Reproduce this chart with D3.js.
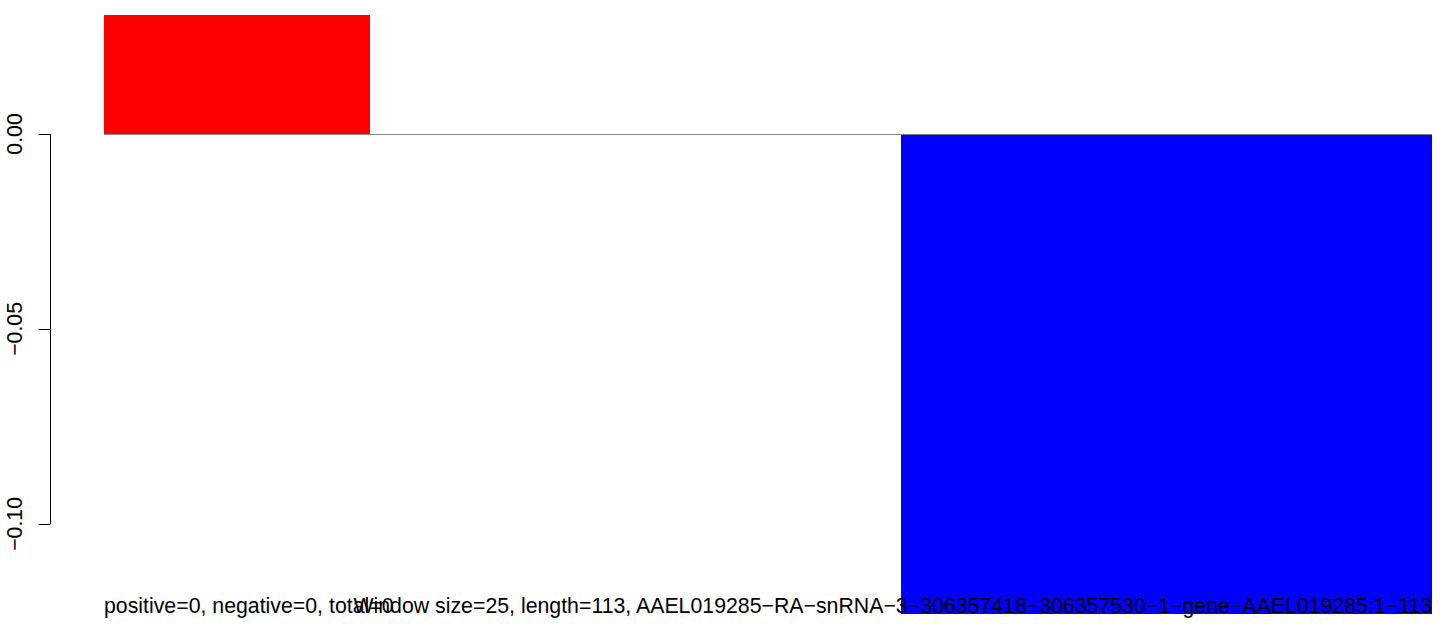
<!DOCTYPE html>
<html>
<head>
<meta charset="utf-8">
<script src="https://cdn.jsdelivr.net/npm/d3@7"></script>
<style>
	body { margin:0; background:#fff; }
	text { font-family: "Liberation Sans", Arial, Helvetica, sans-serif; }
</style>
</head>
<body>
<div id="idChart"></div>
<script>
// windows of 25 along a 113 long sequence
var aWindows=["1","26","51","76","101"];
var aValues=[0.0305, 0, 0, -0.1231, -0.1231];
var aTicks=[0, -0.05, -0.10];
var aTickLabels=["0.00", "\u22120.05", "\u22120.10"];
var sLeftNote="positive=0, negative=0, total=0";
var sRightNote="Window size=25, length=113, AAEL019285\u2212RA\u2212snRNA\u22123\u2212306357418\u2212306357530\u22121\u2212gene\u2212AAEL019285:1\u2212113";

function DrawWindowBars()
{
	var iWidth=1444;
	var iHeight=624;
	var iLeft=104;
	var iRight=1432;
	var iTop=15;
	var iBottom=614;
	var iFontSize=21.3;

	var myCanvas=d3.select("#idChart").append("svg")
		.attr("width", iWidth)
		.attr("height", iHeight);

	var xAxes=d3.scaleBand().domain(aWindows).range([iLeft, iRight]).padding(0);
	var yAxes=d3.scaleLinear().domain([d3.max(aValues), d3.min(aValues)]).range([iTop, iBottom]);

	myCanvas.selectAll(".WindowBars")
		.data(aValues)
		.enter().append("rect")
			.attr("class","WindowBars")
			.attr("x", function(d,i) { return xAxes(aWindows[i]); })
			.attr("width", xAxes.bandwidth())
			.attr("y", function(d) { return yAxes(Math.max(d,0)); })
			.attr("height", function(d) { return Math.abs(yAxes(d)-yAxes(0)); })
			.attr("fill", function(d) { return d>0 ? "#ff0000" : "#0000ff"; })
			.attr("shape-rendering","crispEdges");

	// zero line
	myCanvas.append("line")
		.attr("x1", iLeft).attr("x2", iRight)
		.attr("y1", yAxes(0)+0.5).attr("y2", yAxes(0)+0.5)
		.attr("stroke","#808080")
		.attr("stroke-width",1);

	// y axis, R style
	var iAxisX=50.5;
	myCanvas.append("line")
		.attr("x1", iAxisX).attr("x2", iAxisX)
		.attr("y1", yAxes(aTicks[0])).attr("y2", yAxes(aTicks[aTicks.length-1]))
		.attr("stroke","#000").attr("stroke-width",1);

	myCanvas.selectAll(".TickLines")
		.data(aTicks)
		.enter().append("line")
			.attr("class","TickLines")
			.attr("x1", iAxisX-12).attr("x2", iAxisX)
			.attr("y1", function(d) { return Math.round(yAxes(d))+0.5; })
			.attr("y2", function(d) { return Math.round(yAxes(d))+0.5; })
			.attr("stroke","#000");

	myCanvas.selectAll(".TickLabels")
		.data(aTicks)
		.enter().append("text")
			.attr("class","TickLabels")
			.attr("transform", function(d) { return "translate(22,"+yAxes(d)+") rotate(-90)"; })
			.attr("text-anchor","middle")
			.attr("font-size", iFontSize)
			.text(function(d,i) { return aTickLabels[i]; });

	myCanvas.append("text")
		.attr("x", iLeft)
		.attr("y", 613)
		.attr("font-size", iFontSize)
		.text(sLeftNote);

	myCanvas.append("text")
		.attr("x", iRight)
		.attr("y", 613)
		.attr("text-anchor","end")
		.attr("font-size", iFontSize)
		.text(sRightNote);
}

DrawWindowBars();
</script>
</body>
</html>
